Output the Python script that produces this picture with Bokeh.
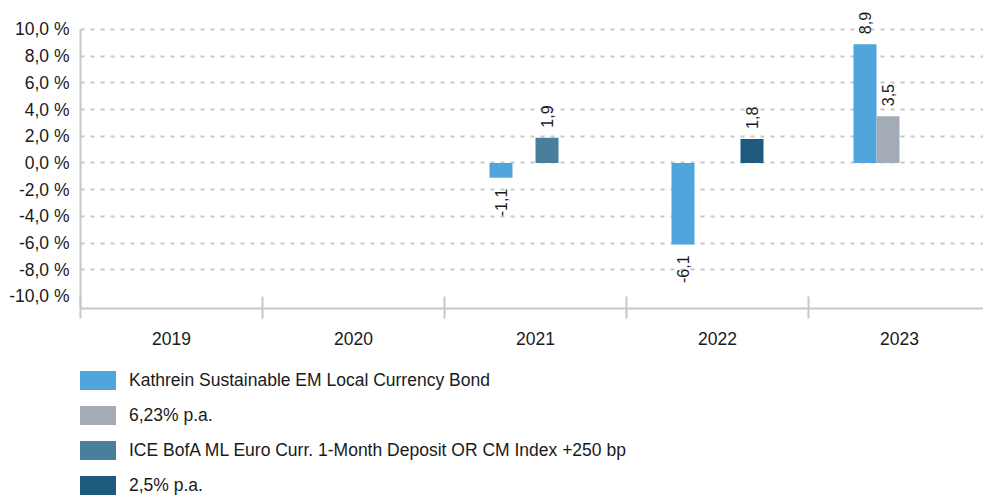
from bokeh.plotting import figure
from bokeh.layouts import column
from bokeh.models import Range1d, FixedTicker, Legend, LegendItem, ColumnDataSource
from bokeh.transform import dodge
from bokeh.core.properties import value
from bokeh.embed import file_html
from bokeh.resources import INLINE
import math

# ---- data ----
years = ["2019", "2020", "2021", "2022", "2023"]
fund = [None, None, -1.1, -6.1, 8.9]
bench_623 = [None, None, None, None, 3.5]
bench_ice = [None, None, 1.9, None, None]
bench_25 = [None, None, None, 1.8, None]
series_names = [
    "Kathrein Sustainable EM Local Currency Bond",
    "6,23% p.a.",
    "ICE BofA ML Euro Curr. 1-Month Deposit OR CM Index +250 bp",
    "2,5% p.a.",
]
series_values = [fund, bench_623, bench_ice, bench_25]
series_colors = ["#4fa6dc", "#a3acb6", "#4a7f9b", "#1e5a7d"]
y_ticks = [-10, -8, -6, -4, -2, 0, 2, 4, 6, 8, 10]
y_tick_labels = ["-10,0 %", "-8,0 %", "-6,0 %", "-4,0 %", "-2,0 %", "0,0 %",
                 "2,0 %", "4,0 %", "6,0 %", "8,0 %", "10,0 %"]

FONT = "Liberation Sans"
TXT = "#1a1a1a"
AX = "#c8c8c8"
FS = "17.5px"

bar_w = 23 / 182.0
centers = [i + 0.5 for i in range(len(years))]

p = figure(width=983, height=350,
           x_range=Range1d(0, 903 / 182.0),
           y_range=Range1d(-10.9, 12.172),
           output_backend="svg", toolbar_location=None,
           min_border_left=80, min_border_right=0,
           min_border_top=0, min_border_bottom=42)
p.outline_line_color = None
p.background_fill_color = "white"
p.xgrid.visible = False
p.ygrid.ticker = FixedTicker(ticks=[t for t in y_ticks if t > -10])
p.ygrid.grid_line_color = AX
p.ygrid.grid_line_width = 2
p.ygrid.grid_line_dash = "4 6"

xa = p.xaxis[0]
xa.ticker = FixedTicker(ticks=centers, minor_ticks=[float(i) for i in range(len(years) + 1)])
xa.major_label_overrides = {c: y for c, y in zip(centers, years)}
xa.major_tick_line_color = None
xa.major_tick_in = 0
xa.major_tick_out = 0
xa.minor_tick_in = 12
xa.minor_tick_out = 10
xa.minor_tick_line_color = AX
xa.minor_tick_line_width = 2
xa.axis_line_color = AX
xa.axis_line_width = 2
xa.major_label_standoff = 13
xa.major_label_text_font = FONT
xa.major_label_text_font_size = FS
xa.major_label_text_color = TXT

ya = p.yaxis[0]
ya.ticker = FixedTicker(ticks=y_ticks)
ya.major_label_overrides = {t: l for t, l in zip(y_ticks, y_tick_labels)}
ya.major_tick_line_color = None
ya.minor_tick_line_color = None
ya.major_tick_in = 0
ya.major_tick_out = 0
ya.axis_line_color = AX
ya.axis_line_width = 2
ya.bounds = (-10.9, 10)
ya.major_label_standoff = 11
ya.major_label_text_font = FONT
ya.major_label_text_font_size = FS
ya.major_label_text_color = TXT

# legend figure below the chart (its ranges show none of the bars)
lf = figure(width=983, height=147, x_range=Range1d(0, 1), y_range=Range1d(50, 51),
            x_axis_type=None, y_axis_type=None,
            output_backend="svg", toolbar_location=None,
            min_border_left=0, min_border_right=0, min_border_top=0, min_border_bottom=0)
lf.outline_line_color = None

items = []
for k, (vals, color, name) in enumerate(zip(series_values, series_colors, series_names)):
    xs = [c for c, v in zip(centers, vals) if v is not None]
    vs = [v for v in vals if v is not None]
    labels = [f"{v:.1f}".replace(".", ",") for v in vs]
    src = ColumnDataSource(dict(x=xs, top=vs, label=labels))
    off = (k - 1.5) * bar_w
    p.vbar(x=dodge("x", off), top="top", bottom=0, width=bar_w, source=src,
           fill_color=color, line_color=None)
    pos = ColumnDataSource(dict(x=[x for x, v in zip(xs, vs) if v >= 0],
                                y=[v for v in vs if v >= 0],
                                label=[l for l, v in zip(labels, vs) if v >= 0]))
    neg = ColumnDataSource(dict(x=[x for x, v in zip(xs, vs) if v < 0],
                                y=[v for v in vs if v < 0],
                                label=[l for l, v in zip(labels, vs) if v < 0]))
    p.text(x=dodge("x", off), y="y", text="label", source=pos, angle=math.pi / 2,
           text_align="left", text_baseline="middle", y_offset=-10,
           text_font=value(FONT), text_font_size="16px", text_color=TXT)
    p.text(x=dodge("x", off), y="y", text="label", source=neg, angle=math.pi / 2,
           text_align="right", text_baseline="middle", y_offset=11,
           text_font=value(FONT), text_font_size="16px", text_color=TXT)
    lr = lf.vbar(x=dodge("x", off), top="top", bottom=0, width=bar_w, source=src,
                 fill_color=color, line_color=None)
    items.append(LegendItem(label=name, renderers=[lr]))

legend = Legend(items=items, location=(-5, 0), orientation="vertical",
                glyph_width=45, glyph_height=24, label_height=20, label_standoff=9,
                spacing=11, padding=0, margin=0, border_line_color=None,
                background_fill_alpha=0,
                label_text_font=FONT, label_text_font_size=FS, label_text_color=TXT)
lf.add_layout(legend)

layout = column(p, lf, spacing=0)
open("out.html", "w").write(file_html(layout, INLINE))
